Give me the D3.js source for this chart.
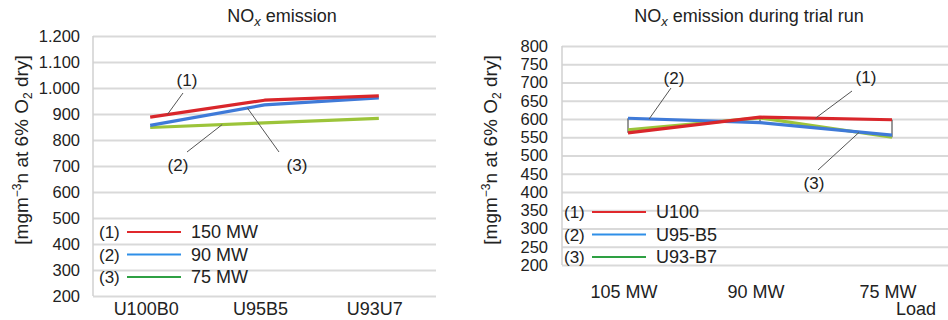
<!DOCTYPE html>
<html>
<head>
<meta charset="utf-8">
<script src="https://cdn.jsdelivr.net/npm/d3@7"></script>
<style>
  body { margin: 0; background: #fff; }
  svg { display: block; font-family: "Liberation Sans", Arial, sans-serif; }
  .grid line { stroke: #d9d9d9; stroke-width: 2; }
  .grid path { display: none; }
  .grid text { fill: #222; font-size: 16.5px; }
  .lbl { fill: #222; }
  .leader { stroke: #555; stroke-width: 1; fill: none; }
</style>
</head>
<body>
<svg width="948" height="320"></svg>
<script>
// left chart: NOx emission per fuel blend
const blends = ['U100B0', 'U95B5', 'U93U7'];
const loadSeries = ['150 MW', '90 MW', '75 MW'];
const nox150 = [888, 953, 970];
const nox90 = [856, 935, 962];
const nox75 = [848, 866, 883];

// right chart: NOx during trial run
const loads = ['105 MW', '90 MW', '75 MW'];
const fuelSeries = ['U100', 'U95-B5', 'U93-B7'];
const u100 = [562, 605, 598];
const u95b5 = [602, 590, 556];
const u93b7 = [570, 603, 550];

const leftTicks = d3.range(200, 1201, 100);
const rightTicks = d3.range(200, 801, 50);

const lineColors = ['#d9262b', '#3f7ad8', '#9cc43a'];
const legendColors = ['#e0282c', '#2f8fe8', '#2ea043'];

const loc = d3.formatLocale({ decimal: ',', thousands: '.', grouping: [3], currency: ['', ''] });
const fmt = loc.format(',');

const svg = d3.select('svg');

function yTitle(g, x, y) {
  const t = g.append('text').attr('class', 'lbl')
    .attr('transform', `translate(${x},${y}) rotate(-90)`)
    .attr('text-anchor', 'middle').style('font-size', '19px');
  t.append('tspan').text('[mgm');
  t.append('tspan').text('−3').attr('dy', -7).style('font-size', '12px');
  t.append('tspan').text('n at 6% O').attr('dy', 7);
  t.append('tspan').text('2').attr('dy', 4).style('font-size', '12px');
  t.append('tspan').text(' dry]').attr('dy', -4);
}

function title(g, x, y, rest) {
  const t = g.append('text').attr('class', 'lbl')
    .attr('x', x).attr('y', y).attr('text-anchor', 'middle').style('font-size', '18px');
  t.append('tspan').text('NO');
  t.append('tspan').text('x').attr('dy', 4).style('font-size', '13px').style('font-style', 'italic');
  t.append('tspan').text(rest).attr('dy', -4);
}

function drawChart(o) {
  const g = svg.append('g');
  const x = d3.scalePoint().domain(o.cats).range([o.x0, o.x1]).padding(0.5);
  const y = d3.scaleLinear().domain(o.domain).range([o.y1, o.y0]);

  g.append('g').attr('class', 'grid')
    .attr('transform', `translate(${o.x0},0)`)
    .call(d3.axisLeft(y).tickValues(o.ticks).tickFormat(o.fmt)
      .tickSizeInner(-(o.x1 - o.x0)).tickSizeOuter(0).tickPadding(o.pad));

  g.append('line').attr('x1', o.x0).attr('x2', o.x0)
    .attr('y1', y(o.domain[1])).attr('y2', y(o.domain[0]))
    .attr('stroke', '#d0d0d0').attr('stroke-width', 1.5);

  // high-low lines
  if (o.hiLo) {
    o.cats.forEach((c, i) => {
      const vals = o.series.map(s => s[i]);
      g.append('line').attr('x1', x(c)).attr('x2', x(c))
        .attr('y1', y(d3.max(vals))).attr('y2', y(d3.min(vals)))
        .attr('stroke', '#333').attr('stroke-width', 1);
    });
  }

  const line = d3.line().x((d, i) => x(o.cats[i])).y(d => y(d));
  [2, 1, 0].forEach(k => {
    g.append('path').datum(o.series[k]).attr('d', line)
      .attr('fill', 'none').attr('stroke', lineColors[k])
      .attr('stroke-width', 3.2).attr('stroke-linejoin', 'round')
      .style('filter', 'blur(0.4px)');
  });

  g.selectAll('.xl').data(o.cats).join('text').attr('class', 'lbl')
    .attr('x', d => x(d) - 4).attr('y', o.xlY).attr('text-anchor', 'middle')
    .style('font-size', '18px').text(d => d);

  // legend
  o.names.forEach((n, i) => {
    const ly = o.legY + i * o.legGap;
    g.append('text').attr('class', 'lbl').attr('x', o.legX).attr('y', ly + 6)
      .style('font-size', '17px').text(`(${i + 1})`);
    g.append('line').attr('x1', o.legX + 28).attr('x2', o.legX + 82)
      .attr('y1', ly).attr('y2', ly).attr('stroke', legendColors[i]).attr('stroke-width', 2);
    g.append('text').attr('class', 'lbl').attr('x', o.legX + 92).attr('y', ly + 6)
      .style('font-size', '18px').text(n);
  });

  // callouts (label text follows the reference, which is not always the series index)
  o.notes.forEach(a => {
    g.append('line').attr('class', 'leader')
      .attr('x1', a.lx1).attr('y1', a.ly1)
      .attr('x2', x(o.cats[a.seg]) + (x(o.cats[a.seg + 1]) - x(o.cats[a.seg])) * a.t)
      .attr('y2', y(o.series[a.s][a.seg] + (o.series[a.s][a.seg + 1] - o.series[a.s][a.seg]) * a.t));
    g.append('text').attr('class', 'lbl').attr('x', a.tx).attr('y', a.ty)
      .attr('text-anchor', 'middle').style('font-size', '17px').text(a.label);
  });
  return { g, x, y };
}

drawChart({
  cats: blends, series: [nox150, nox90, nox75], names: loadSeries,
  x0: 93, x1: 436, y0: 36, y1: 296, domain: [200, 1200], ticks: leftTicks, fmt: fmt, pad: 13,
  xlY: 315, legX: 99, legY: 232, legGap: 22.5, hiLo: false,
  notes: [
    { s: 0, seg: 0, t: 0.15, lx1: 183, ly1: 93, tx: 187, ty: 86, label: '(1)' },
    { s: 2, seg: 0, t: 0.63, lx1: 187, ly1: 152, tx: 178, ty: 171, label: '(2)' },
    { s: 1, seg: 0, t: 0.85, lx1: 279, ly1: 152, tx: 297, ty: 171, label: '(3)' }
  ]
});
yTitle(svg, 28, 150);
title(svg, 282, 22, ' emission');

drawChart({
  cats: loads, series: [u100, u95b5, u93b7], names: fuelSeries,
  x0: 562, x1: 958, y0: 46, y1: 265, domain: [200, 800], ticks: rightTicks, fmt: d3.format('d'), pad: 14,
  xlY: 298, legX: 564, legY: 212, legGap: 22.5, hiLo: true,
  notes: [
    { s: 1, seg: 0, t: 0.16, lx1: 671, ly1: 88, tx: 674, ty: 84, label: '(2)' },
    { s: 0, seg: 1, t: 0.42, lx1: 852, ly1: 91, tx: 866, ty: 83, label: '(1)' },
    { s: 2, seg: 1, t: 0.75, lx1: 818, ly1: 170, tx: 814, ty: 189, label: '(3)' }
  ]
});
yTitle(svg, 497, 150);
title(svg, 749, 22, ' emission during trial run');
svg.append('text').attr('class', 'lbl').attr('x', 936).attr('y', 315)
  .attr('text-anchor', 'end').style('font-size', '18px').text('Load');
</script>
</body>
</html>
